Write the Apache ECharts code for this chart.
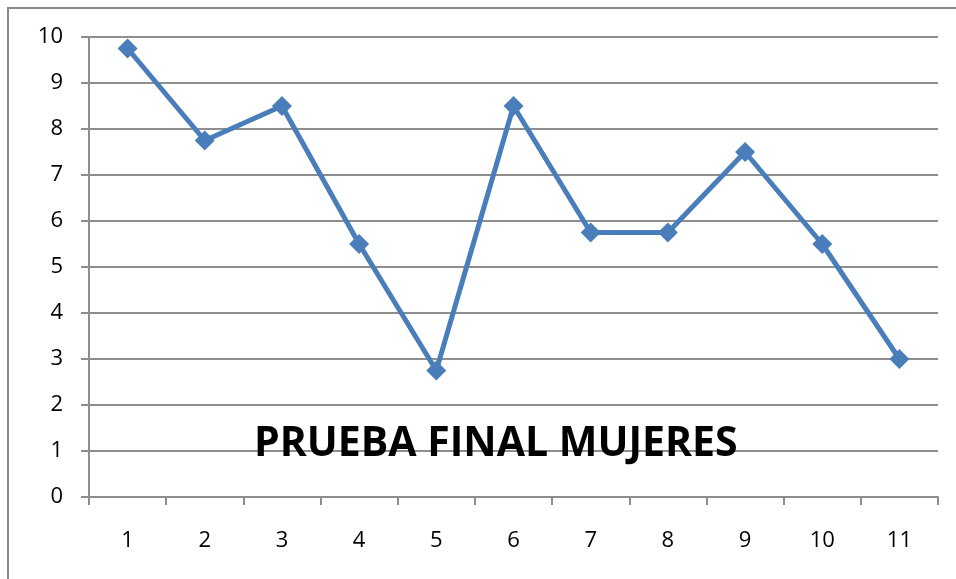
<!DOCTYPE html>
<html><head><meta charset="utf-8">
<script src="https://cdn.jsdelivr.net/npm/echarts@6/dist/echarts.min.js"></script>
<style>html,body{margin:0;padding:0;background:#fff}#c{width:956px;height:579px}</style>
</head><body><div id="c"></div>
<script>
const categories = ['1','2','3','4','5','6','7','8','9','10','11'];
const values = [9.75, 7.75, 8.5, 5.5, 2.75, 8.5, 5.75, 5.75, 7.5, 5.5, 3];
const titleText = 'PRUEBA FINAL MUJERES';

const chart = echarts.init(document.getElementById('c'), null, {renderer:'canvas'});
const gridColor = '#8e8e8e';
chart.setOption({
  animation: false,
  backgroundColor: '#fff',
  grid: {left: 89, right: 18, top: 37, bottom: 82},
  graphic: [
    {type:'rect', shape:{x:8, y:8, width:1000, height:1000}, style:{fill:'none', stroke:'#8a8a8a', lineWidth:2}, z:-1},
    {type:'text', left: 254, top: 424, z: 100,
      style:{text: titleText, font:'bold 41px "Open Sans"', fill:'#000'}}
  ],
  xAxis: {
    type:'category', data: categories, boundaryGap: true,
    axisLine:{show:true, lineStyle:{color:gridColor, width:2}},
    axisTick:{show:true, length:8, lineStyle:{color:gridColor, width:2}},
    axisLabel:{color:'#000', fontSize:22, fontFamily:'Open Sans', margin:33},
    splitLine:{show:false}
  },
  yAxis: {
    type:'value', min:0, max:10, interval:1,
    axisLine:{show:true, lineStyle:{color:gridColor, width:2}},
    axisTick:{show:true, length:8, lineStyle:{color:gridColor, width:2}},
    axisLabel:{color:'#000', fontSize:22, fontFamily:'Open Sans', margin:26},
    splitLine:{show:true, lineStyle:{color:gridColor, width:2}}
  },
  series: [{
    type:'line', data: values, symbol:'diamond', symbolSize:20,
    lineStyle:{color:'#4a7ebb', width:5},
    itemStyle:{color:'#4a7ebb'}
  }]
});
</script></body></html>
